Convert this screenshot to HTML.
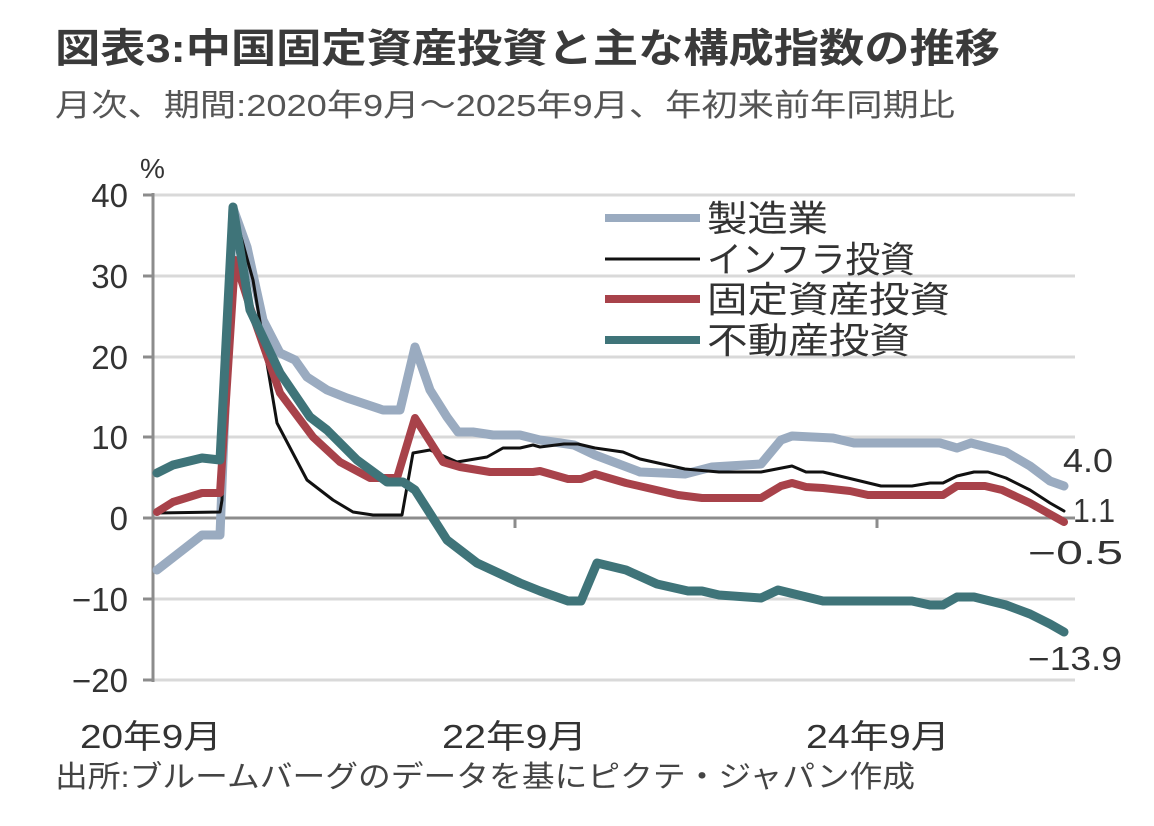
<!DOCTYPE html>
<html><head><meta charset="utf-8"><style>
body{margin:0;background:#fff;width:1154px;height:826px;overflow:hidden}
svg{display:block}
text{font-family:"Liberation Sans","Noto Sans CJK JP",sans-serif}
</style></head><body>
<svg width="1154" height="826" viewBox="0 0 1154 826">
<text x="55" y="62" font-size="40" font-weight="bold" fill="#3a3a3a" textLength="945" lengthAdjust="spacingAndGlyphs">図表3:中国固定資産投資と主な構成指数の推移</text>
<text x="55" y="116" font-size="31" fill="#555" textLength="900" lengthAdjust="spacingAndGlyphs">月次、期間:2020年9月～2025年9月、年初来前年同期比</text>
<text x="140" y="178" font-size="28" fill="#333">%</text>
<g stroke="#d9d9d9" stroke-width="3">
<line x1="153" y1="195" x2="1075" y2="195"/><line x1="153" y1="276" x2="1075" y2="276"/>
<line x1="153" y1="357" x2="1075" y2="357"/><line x1="153" y1="437" x2="1075" y2="437"/>
<line x1="153" y1="599" x2="1075" y2="599"/><line x1="153" y1="680" x2="1075" y2="680"/>
</g>
<g stroke="#8c8c8c" stroke-width="3">
<line x1="153" y1="193" x2="153" y2="682"/><line x1="153" y1="518" x2="1075" y2="518"/>
<line x1="515" y1="518" x2="515" y2="528"/><line x1="877" y1="518" x2="877" y2="528"/>
<line x1="143" y1="195" x2="153" y2="195"/><line x1="143" y1="276" x2="153" y2="276"/><line x1="143" y1="357" x2="153" y2="357"/><line x1="143" y1="437" x2="153" y2="437"/><line x1="143" y1="518" x2="153" y2="518"/><line x1="143" y1="599" x2="153" y2="599"/><line x1="143" y1="680" x2="153" y2="680"/>
</g>
<g font-size="33" fill="#333" text-anchor="end">
<text x="128" y="207">40</text><text x="128" y="288">30</text><text x="128" y="369">20</text><text x="128" y="449">10</text><text x="128" y="530">0</text><text x="128" y="611">−10</text><text x="128" y="692">−20</text>
</g>
<g font-size="33" fill="#333">
<text x="80" y="748" textLength="142" lengthAdjust="spacingAndGlyphs">20年9月</text><text x="442" y="748" textLength="145" lengthAdjust="spacingAndGlyphs">22年9月</text><text x="806" y="748" textLength="144" lengthAdjust="spacingAndGlyphs">24年9月</text>
<text x="55" y="787" font-size="30" fill="#444" textLength="860" lengthAdjust="spacingAndGlyphs">出所:ブルームバーグのデータを基にピクテ・ジャパン作成</text>
<text x="1063" y="472" textLength="50" lengthAdjust="spacingAndGlyphs">4.0</text><text x="1073" y="522" textLength="42" lengthAdjust="spacingAndGlyphs">1.1</text><text x="1028" y="564" textLength="95" lengthAdjust="spacingAndGlyphs">−0.5</text><text x="1028" y="670" textLength="94" lengthAdjust="spacingAndGlyphs">−13.9</text>
</g>
<g fill="none" stroke-linejoin="round" stroke-linecap="round">
<polyline stroke="#9aabc0" stroke-width="9" points="157,570 202,535 220,535 233,208 247,247 263,320 280,353 295,360 307,377 327,390 347,398 383,410 400,410 415,347 430,390 447,417 458,432 473,432 493,435 520,435 540,440 574,445 595,455 640,472 685,474 712,467 761,464 781,440 792,436 833,438 854,443 940,443 957,448 971,443 1006,452 1030,466 1050,481 1064,486"/>
<polyline stroke="#111" stroke-width="3" points="157,513 220,512 222,500 233,208 253,280 277,423 307,480 333,500 353,512 373,515 402,515 413,453 430,450 457,462 487,457 503,448 520,448 533,445 540,447 564,444 578,444 595,448 623,452 640,459 685,469 719,472 761,472 792,466 806,472 823,472 881,486 912,486 930,483 943,483 957,476 974,472 988,472 1006,478 1030,490 1050,503 1064,511"/>
<polyline stroke="#a8424a" stroke-width="8" points="157,512 173,502 202,493 220,493 235,260 250,307 280,393 313,437 340,462 370,478 397,478 415,418 443,462 460,467 490,472 533,472 540,471 568,479 581,479 595,474 626,483 678,495 702,498 761,498 781,486 792,483 806,487 823,488 850,491 868,495 943,495 957,486 985,486 1002,490 1030,503 1064,522"/>
<polyline stroke="#3f7479" stroke-width="9" points="157,473 173,465 202,458 220,460 233,207 250,310 280,373 310,417 327,430 357,460 387,482 403,482 415,490 447,540 477,563 520,583 540,591 568,601 581,601 597,563 626,570 657,584 688,591 702,591 719,595 761,598 778,590 823,601 912,601 930,605 943,605 957,597 974,597 1006,605 1030,614 1050,624 1064,632"/>
</g>
<g stroke-width="8" stroke-linecap="butt">
<line x1="605" y1="218" x2="700" y2="218" stroke="#9aabc0"/>
<line x1="605" y1="259" x2="700" y2="259" stroke="#111" stroke-width="3"/>
<line x1="605" y1="299" x2="700" y2="299" stroke="#a8424a"/>
<line x1="605" y1="340" x2="700" y2="340" stroke="#3f7479"/>
</g>
<g font-size="36" fill="#333">
<text x="707" y="231" textLength="121" lengthAdjust="spacingAndGlyphs">製造業</text><text x="707" y="272" textLength="208" lengthAdjust="spacingAndGlyphs">インフラ投資</text><text x="707" y="312" textLength="243" lengthAdjust="spacingAndGlyphs">固定資産投資</text><text x="707" y="353" textLength="203" lengthAdjust="spacingAndGlyphs">不動産投資</text>
</g>
</svg>
</body></html>
